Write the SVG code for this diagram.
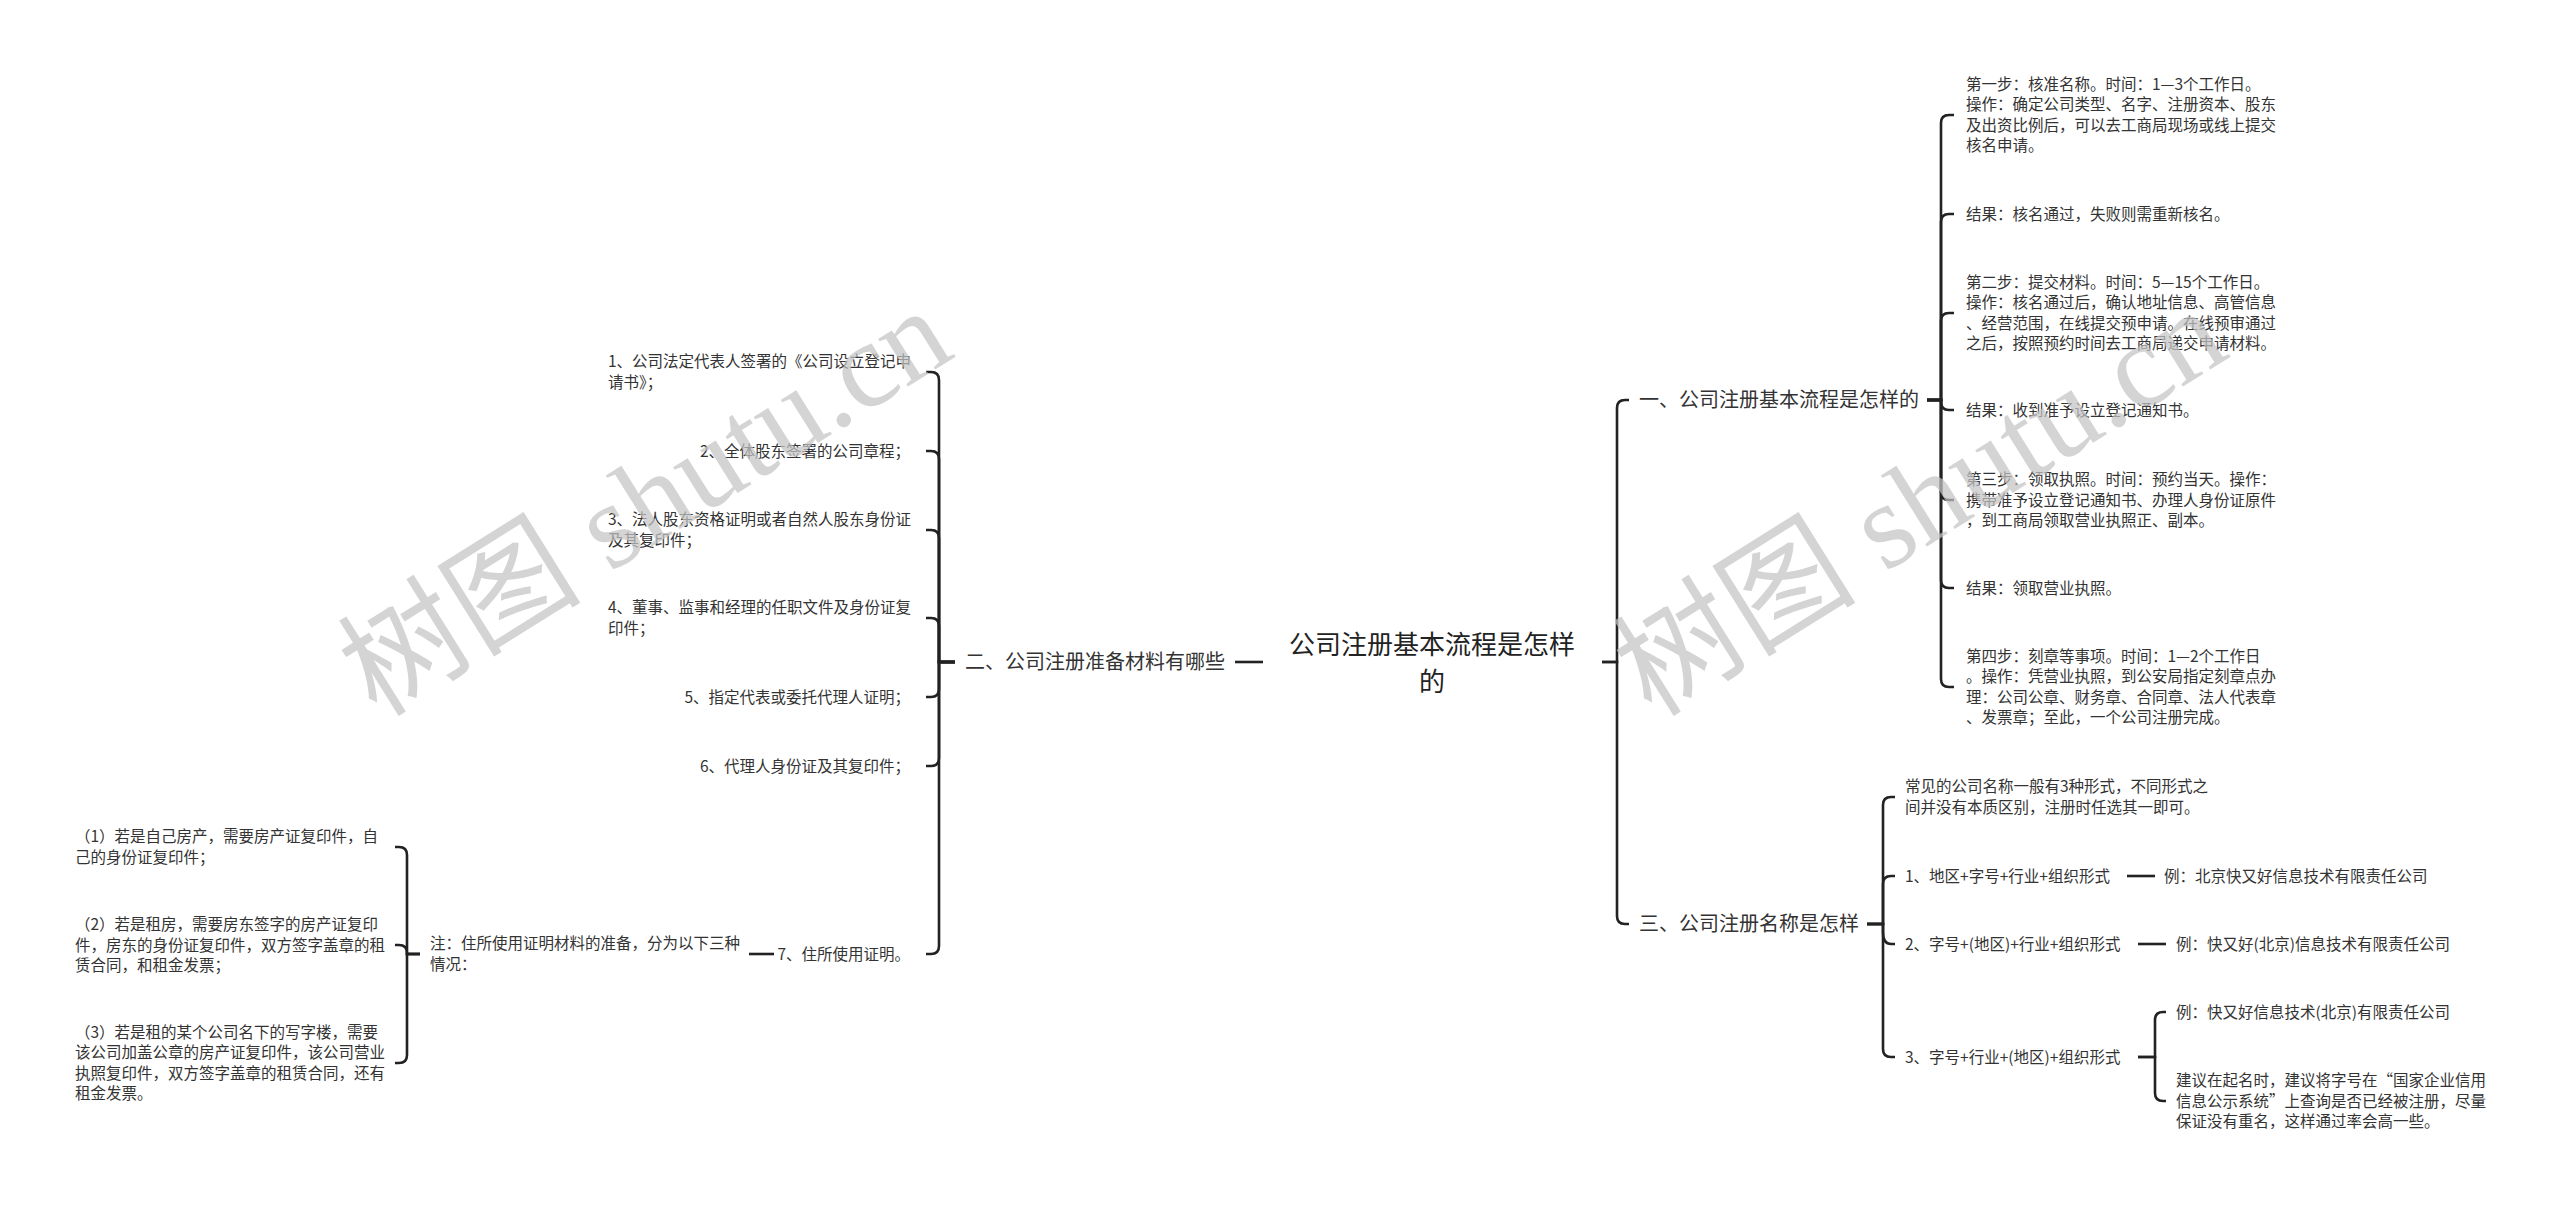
<svg xmlns="http://www.w3.org/2000/svg" width="2560" height="1205" viewBox="0 0 2560 1205">
<style>
text{font-family:"Noto Sans CJK SC","Liberation Sans",sans-serif;fill:#333}
.s{font-size:15.5px}
.b{font-size:20px}
.c{font-size:26px;fill:#222}
.wm{font-family:"Liberation Serif","Noto Sans CJK SC",serif;font-size:122px;fill:#c4c4c4;fill-opacity:0.72}
#connectors path{fill:none;stroke:#222;stroke-width:2.6;stroke-linecap:butt}
</style>
<rect width="2560" height="1205" fill="#fff"/>
<g id="connectors">
<path d="M1602 662H1617V408Q1617 400 1625 400H1629"/>
<path d="M1602 662H1617V916Q1617 924 1625 924H1629"/>
<path d="M1263 662H1235"/>
<path d="M1927 400H1941V123Q1941 115 1949 115H1954"/>
<path d="M1927 400H1941V222Q1941 214 1949 214H1954"/>
<path d="M1927 400H1941V321Q1941 313 1949 313H1954"/>
<path d="M1927 400H1941V402Q1941 410 1949 410H1954"/>
<path d="M1927 400H1941V492Q1941 500 1949 500H1954"/>
<path d="M1927 400H1941V580Q1941 588 1949 588H1954"/>
<path d="M1927 400H1941V679Q1941 687 1949 687H1954"/>
<path d="M1867 924H1883V805Q1883 797 1891 797H1895"/>
<path d="M1867 924H1883V884Q1883 876 1891 876H1895"/>
<path d="M1867 924H1883V932Q1883 944 1891 944H1895"/>
<path d="M1867 924H1883V1049Q1883 1057 1891 1057H1895"/>
<path d="M2127 876H2155"/>
<path d="M2138 944H2166"/>
<path d="M2138 1057H2155V1020Q2155 1012 2163 1012H2166"/>
<path d="M2138 1057H2155V1093Q2155 1101 2163 1101H2166"/>
<path d="M955 662H939V380Q939 372 931 372H926"/>
<path d="M955 662H939V459Q939 451 931 451H926"/>
<path d="M955 662H939V538Q939 530 931 530H926"/>
<path d="M955 662H939V626Q939 618 931 618H926"/>
<path d="M955 662H939V689Q939 697 931 697H926"/>
<path d="M955 662H939V758Q939 766 931 766H926"/>
<path d="M955 662H939V946Q939 954 931 954H926"/>
<path d="M774 954H749"/>
<path d="M420 954H407V855Q407 847 399 847H395"/>
<path d="M420 954H407V953Q407 945 399 945H395"/>
<path d="M420 954H407V1055Q407 1063 399 1063H395"/>
</g>
<g id="center"><text class="c" text-anchor="middle"><tspan x="1432" y="654.4">公司注册基本流程是怎样</tspan><tspan x="1432" y="691.4">的</tspan></text></g>
<g id="b1"><text class="b" x="1639" y="407.2">一、公司注册基本流程是怎样的</text></g>
<g id="b2"><text class="b" x="965" y="669.2">二、公司注册准备材料有哪些</text></g>
<g id="b3"><text class="b" x="1639" y="931.2">三、公司注册名称是怎样</text></g>
<g id="r1"><text class="s"><tspan x="1966" y="89.9">第一步：核准名称。时间：1—3个工作日。</tspan><tspan x="1966" y="110.3">操作：确定公司类型、名字、注册资本、股东</tspan><tspan x="1966" y="130.7">及出资比例后，可以去工商局现场或线上提交</tspan><tspan x="1966" y="151.1">核名申请。</tspan></text></g>
<g id="r2"><text class="s" x="1966" y="219.5">结果：核名通过，失败则需重新核名。</text></g>
<g id="r3"><text class="s"><tspan x="1966" y="287.9">第二步：提交材料。时间：5—15个工作日。</tspan><tspan x="1966" y="308.3">操作：核名通过后，确认地址信息、高管信息</tspan><tspan x="1966" y="328.7">、经营范围，在线提交预申请。在线预审通过</tspan><tspan x="1966" y="349.1">之后，按照预约时间去工商局递交申请材料。</tspan></text></g>
<g id="r4"><text class="s" x="1966" y="415.5">结果：收到准予设立登记通知书。</text></g>
<g id="r5"><text class="s"><tspan x="1966" y="485.1">第三步：领取执照。时间：预约当天。操作：</tspan><tspan x="1966" y="505.5">携带准予设立登记通知书、办理人身份证原件</tspan><tspan x="1966" y="525.9">，到工商局领取营业执照正、副本。</tspan></text></g>
<g id="r6"><text class="s" x="1966" y="593.5">结果：领取营业执照。</text></g>
<g id="r7"><text class="s"><tspan x="1966" y="661.9">第四步：刻章等事项。时间：1—2个工作日</tspan><tspan x="1966" y="682.3">。操作：凭营业执照，到公安局指定刻章点办</tspan><tspan x="1966" y="702.7">理：公司公章、财务章、合同章、法人代表章</tspan><tspan x="1966" y="723.1">、发票章；至此，一个公司注册完成。</tspan></text></g>
<g id="n0"><text class="s"><tspan x="1905" y="792.3">常见的公司名称一般有3种形式，不同形式之</tspan><tspan x="1905" y="812.7">间并没有本质区别，注册时任选其一即可。</tspan></text></g>
<g id="n1"><text class="s" x="1905" y="881.5">1、地区+字号+行业+组织形式</text></g>
<g id="n1a"><text class="s" x="2164" y="881.5">例：北京快又好信息技术有限责任公司</text></g>
<g id="n2"><text class="s" x="1905" y="949.5">2、字号+(地区)+行业+组织形式</text></g>
<g id="n2a"><text class="s" x="2176" y="949.5">例：快又好(北京)信息技术有限责任公司</text></g>
<g id="n3"><text class="s" x="1905" y="1062.5">3、字号+行业+(地区)+组织形式</text></g>
<g id="n3a"><text class="s" x="2176" y="1017.5">例：快又好信息技术(北京)有限责任公司</text></g>
<g id="n3b"><text class="s"><tspan x="2176" y="1086.1">建议在起名时，建议将字号在“国家企业信用</tspan><tspan x="2176" y="1106.5">信息公示系统”上查询是否已经被注册，尽量</tspan><tspan x="2176" y="1126.9">保证没有重名，这样通过率会高一些。</tspan></text></g>
<g id="l1"><text class="s"><tspan x="608" y="367.3">1、公司法定代表人签署的《公司设立登记申</tspan><tspan x="608" y="387.7">请书》；</tspan></text></g>
<g id="l2"><text class="s" x="910" y="456.5" text-anchor="end">2、全体股东签署的公司章程；</text></g>
<g id="l3"><text class="s"><tspan x="608" y="525.3">3、法人股东资格证明或者自然人股东身份证</tspan><tspan x="608" y="545.7">及其复印件；</tspan></text></g>
<g id="l4"><text class="s"><tspan x="608" y="613.3">4、董事、监事和经理的任职文件及身份证复</tspan><tspan x="608" y="633.7">印件；</tspan></text></g>
<g id="l5"><text class="s" x="910" y="702.5" text-anchor="end">5、指定代表或委托代理人证明；</text></g>
<g id="l6"><text class="s" x="910" y="771.5" text-anchor="end">6、代理人身份证及其复印件；</text></g>
<g id="l7"><text class="s" x="910" y="959.5" text-anchor="end">7、住所使用证明。</text></g>
<g id="note"><text class="s"><tspan x="430" y="949.3">注：住所使用证明材料的准备，分为以下三种</tspan><tspan x="430" y="969.7">情况：</tspan></text></g>
<g id="p1"><text class="s"><tspan x="75" y="842.3">（1）若是自己房产，需要房产证复印件，自</tspan><tspan x="75" y="862.7">己的身份证复印件；</tspan></text></g>
<g id="p2"><text class="s"><tspan x="75" y="930.1">（2）若是租房，需要房东签字的房产证复印</tspan><tspan x="75" y="950.5">件，房东的身份证复印件，双方签字盖章的租</tspan><tspan x="75" y="970.9">赁合同，和租金发票；</tspan></text></g>
<g id="p3"><text class="s"><tspan x="75" y="1037.9">（3）若是租的某个公司名下的写字楼，需要</tspan><tspan x="75" y="1058.3">该公司加盖公章的房产证复印件，该公司营业</tspan><tspan x="75" y="1078.7">执照复印件，双方签字盖章的租赁合同，还有</tspan><tspan x="75" y="1099.1">租金发票。</tspan></text></g>
<g id="watermarks">
<text class="wm" transform="translate(667,537) rotate(-32)" text-anchor="middle">树图 shutu.cn</text>
<text class="wm" transform="translate(1942,537) rotate(-32)" text-anchor="middle">树图 shutu.cn</text>
</g>
</svg>
